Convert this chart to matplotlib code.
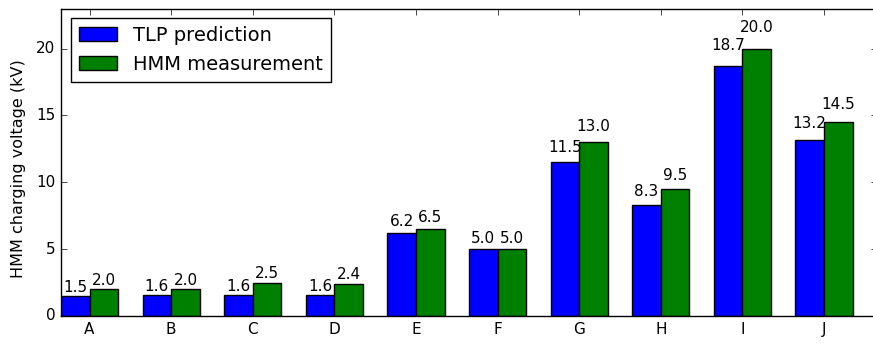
import matplotlib
matplotlib.use('Agg')
import matplotlib.pyplot as plt
import numpy as np

plt.style.use('classic')

devices = ['A', 'B', 'C', 'D', 'E', 'F', 'G', 'H', 'I', 'J']
tlp = [1.5, 1.6, 1.6, 1.6, 6.2, 5.0, 11.5, 8.3, 18.7, 13.2]
hmm = [2.0, 2.0, 2.5, 2.4, 6.5, 5.0, 13.0, 9.5, 20.0, 14.5]

ind = np.arange(len(devices))
width = 0.35

fig = plt.figure(figsize=(8.73, 3.47), dpi=100, facecolor='white')
ax = fig.add_axes([61/873, 31/347, 816/873, 307.5/347])

r1 = ax.bar(ind, tlp, width, color='b', align='edge', edgecolor='k')
r2 = ax.bar(ind + width, hmm, width, color='g', align='edge', edgecolor='k')

def autolabel(rects):
    for rect in rects:
        h = rect.get_height()
        ax.text(rect.get_x() + rect.get_width() / 2., 1.05 * h, '%.1f' % h,
                ha='center', va='bottom', fontsize=11)

autolabel(r1)
autolabel(r2)

ax.set_xlim(0, 10)
ax.set_ylim(0, 23)
ax.set_yticks([0, 5, 10, 15, 20])
ax.set_xticks(ind + width)
ax.set_xticklabels(devices)
ax.tick_params(labelsize=11)
ax.set_ylabel('HMM charging voltage (kV)', fontsize=11.5)
ax.yaxis.set_label_coords(-0.043, 0.48)
ax.legend((r1[0], r2[0]), ('TLP prediction', 'HMM measurement'), loc='upper left', fontsize=14)

fig.savefig('out.png', dpi=100, facecolor='white')
